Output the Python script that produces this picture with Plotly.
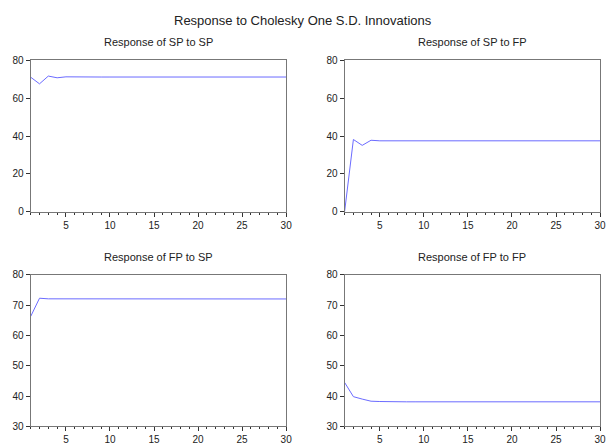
import plotly.graph_objects as go
from plotly.subplots import make_subplots

PERIODS = list(range(1, 31))

SP_TO_SP = [71.1, 67.6, 71.7, 70.8, 71.3] + [71.2] * 25
SP_TO_FP = [0.0, 38.2, 35.1, 37.8, 37.5] + [37.5] * 25
FP_TO_SP = [66.3, 72.3, 72.1, 72.1, 72.06] + [72.06] * 25
FP_TO_FP = [44.5, 39.8, 39.0, 38.3, 38.2] + [38.1] * 25

PANEL_TITLES = [
    "Response of SP to SP",
    "Response of SP to FP",
    "Response of FP to SP",
    "Response of FP to FP",
]
MAIN_TITLE = "Response to Cholesky One S.D. Innovations"

LINE_COLOR = "#6b6bff"
FONT = "Liberation Sans, Arial, sans-serif"

fig = make_subplots(rows=2, cols=2, horizontal_spacing=0.1, vertical_spacing=0.1)

series = [SP_TO_SP, SP_TO_FP, FP_TO_SP, FP_TO_FP]
for i, ys in enumerate(series):
    row, col = i // 2 + 1, i % 2 + 1
    fig.add_trace(
        go.Scatter(
            x=PERIODS,
            y=ys,
            mode="lines",
            line=dict(color=LINE_COLOR, width=1),
            showlegend=False,
        ),
        row=row,
        col=col,
    )

# domains
x_domains = [[31 / 612, 289 / 612], [348 / 612, 606 / 612]]
y_domains = [[1 - 212 / 445, 1 - 56 / 445], [1 - 433 / 445, 1 - 277 / 445]]

axis_style = dict(
    showgrid=False,
    zeroline=False,
    showline=True,
    linecolor="#777777",
    linewidth=1,
    mirror=True,
    ticks="outside",
    ticklen=4,
    tickcolor="#333333",
    tickfont=dict(family=FONT, size=10, color="#222222"),
)

for i in range(4):
    row, col = i // 2, i % 2
    fig.update_xaxes(
        domain=x_domains[col],
        range=[1, 30],
        tickvals=[5, 10, 15, 20, 25, 30],
        minor=dict(dtick=1, tick0=1, ticks="outside", ticklen=2, tickcolor="#333333"),
        row=row + 1,
        col=col + 1,
        **axis_style,
    )
    if row == 0:
        yr, yt = [0, 80], [0, 20, 40, 60, 80]
    else:
        yr, yt = [30, 80], [30, 40, 50, 60, 70, 80]
    fig.update_yaxes(
        domain=y_domains[row],
        range=yr,
        tickvals=yt,
        row=row + 1,
        col=col + 1,
        **axis_style,
    )

annotations = [
    dict(
        text=MAIN_TITLE,
        x=0.5,
        y=1 - 15 / 445,
        xref="paper",
        yref="paper",
        yanchor="middle",
        showarrow=False,
        font=dict(family=FONT, size=13, color="#222222"),
    )
]
title_y = [1 - 37 / 445, 1 - 259 / 445]
for i, t in enumerate(PANEL_TITLES):
    row, col = i // 2, i % 2
    annotations.append(
        dict(
            text=t,
            x=sum(x_domains[col]) / 2,
            y=title_y[row],
            xref="paper",
            yref="paper",
            xanchor="center",
            yanchor="middle",
            showarrow=False,
            font=dict(family=FONT, size=11, color="#222222"),
        )
    )

fig.update_layout(
    width=612,
    height=445,
    margin=dict(l=0, r=0, t=0, b=0),
    plot_bgcolor="white",
    paper_bgcolor="white",
    annotations=annotations,
)

fig.write_html(
    "out.html",
    config={"displayModeBar": False},
    post_script="document.body.style.margin='0';",
)
